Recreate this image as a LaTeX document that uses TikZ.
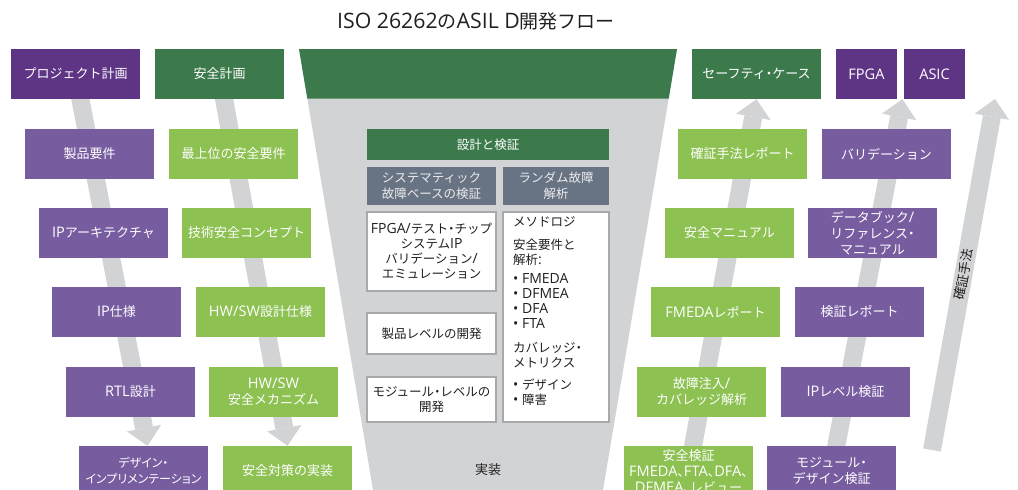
\documentclass[tikz,border=0pt]{standalone}
\usepackage{fontspec}
\setmainfont{Open Sans}[Scale=1.12]
\newfontfamily\latfont{Open Sans}[Scale=1.12]
\newfontfamily\cjkregular{Noto Sans CJK JP}
\newfontfamily\cjkpalt{Noto Sans CJK JP}[RawFeature=+palt]
\newfontfamily\pctfont{Noto Sans CJK JP}[RawFeature=+palt]
\let\cjkfont\cjkregular
\makeatletter
\newXeTeXintercharclass\cjkcls
\newXeTeXintercharclass\pctcls
\count@="3000
\loop
  \XeTeXcharclass\count@=\cjkcls
  \advance\count@ 1
\ifnum\count@<"A000 \repeat
\count@="FF00
\loop
  \XeTeXcharclass\count@=\cjkcls
  \advance\count@ 1
\ifnum\count@<"FFF0 \repeat
\XeTeXcharclass"30FB=\pctcls
\XeTeXcharclass"3001=\pctcls
\makeatother
\XeTeXinterchartoks 0 \cjkcls = {\cjkfont}
\XeTeXinterchartoks 4095 \cjkcls = {\cjkfont}
\XeTeXinterchartoks \pctcls \cjkcls = {\cjkfont}
\XeTeXinterchartoks 0 \pctcls = {\pctfont}
\XeTeXinterchartoks 4095 \pctcls = {\pctfont}
\XeTeXinterchartoks \cjkcls \pctcls = {\pctfont}
\XeTeXinterchartoks \cjkcls 0 = {\latfont}
\XeTeXinterchartoks \pctcls 0 = {\latfont}
\XeTeXinterchartoks \cjkcls 4095 = {\latfont}
\XeTeXinterchartoks \pctcls 4095 = {\latfont}
\XeTeXinterchartokenstate=1
\usetikzlibrary{arrows.meta,calc,backgrounds}
\definecolor{dpurple}{HTML}{5E3584}
\definecolor{mpurple}{HTML}{775CA0}
\definecolor{dgreen}{HTML}{3C7A4C}
\definecolor{lgreen}{HTML}{8DC152}
\definecolor{agray}{HTML}{D1D3D4}
\definecolor{slate}{HTML}{687383}
\definecolor{bordergray}{HTML}{A7A9AC}
\definecolor{ink}{HTML}{231F20}
\definecolor{headtext}{HTML}{ECEDEE}
\begin{document}
\begin{tikzpicture}[x=1pt,y=-1pt,
  box/.style={rectangle, minimum width=129pt, minimum height=50pt, inner sep=0pt,
    text=white, align=center, font=\fontsize{13}{16}\selectfont},
  darkp/.style={box, fill=dpurple},
  medp/.style={box, fill=mpurple},
  darkg/.style={box, fill=dgreen},
  lightg/.style={box, fill=lgreen},
  headbox/.style={rectangle, fill=slate, minimum height=38pt, inner sep=0pt,
    text=headtext, align=center, font=\fontsize{12.5}{16}\selectfont},
  whitebox/.style={rectangle, draw=bordergray, line width=1.2pt, fill=white,
    inner sep=0pt, minimum width=129pt, text=ink, align=center,
    font=\fontsize{12.5}{15}\selectfont},
  bigarrow/.style={draw=agray, line width=18pt,
    -{Triangle[width=35pt,length=18pt,line width=0pt]}}
]
\useasboundingbox (0,0) rectangle (1018,490);
\clip (0,0) rectangle (1018,490);

% title
\node[font=\fontsize{19}{22}\selectfont, text=ink] (title) at (476,21) {ISO 26262のASIL D開発フロー};

% left purple column
\node[darkp] (pj) at (75.5,74) {プロジェクト計画};
\node[medp] (p1) at (89.5,154) {製品要件};
\node[medp] (p2) at (103.5,233) {IPアーキテクチャ};
\node[medp] (p3) at (116.5,312) {IP仕様};
\node[medp] (p4) at (130.5,392) {RTL設計};
\node[medp, font=\fontsize{12}{16}\selectfont\let\cjkfont\cjkpalt] (p5) at (143.5,471) {デザイン・\\インプリメンテーション};

% left green column
\node[darkg] (sp) at (219.5,74) {安全計画};
\node[lightg] (g1) at (233.5,154) {最上位の安全要件};
\node[lightg] (g2) at (246.5,233) {技術安全コンセプト};
\node[lightg] (g3) at (260.5,312) {HW/SW設計仕様};
\node[lightg] (g4) at (273.5,392) {HW/SW\\安全メカニズム};
\node[lightg] (g5) at (287.5,471) {安全対策の実装};

% right green column
\node[darkg] (sc) at (756.5,74) {セーフティ・ケース};
\node[lightg] (rg1) at (742.5,154) {確証手法レポート};
\node[lightg] (rg2) at (729.5,233) {安全マニュアル};
\node[lightg] (rg3) at (715.5,312) {FMEDAレポート};
\node[lightg] (rg4) at (701.5,392) {故障注入/\\カバレッジ解析};
\node[lightg] (rg5) at (688.5,471) {安全検証\\FMEDA、FTA、DFA、\\DFMEA、レビュー};

% right purple column
\node[darkp, minimum width=61pt] (fpga) at (866.5,74) {FPGA};
\node[darkp, minimum width=61pt] (asic) at (934.5,74) {ASIC};
\node[medp] (rp1) at (886.5,154) {バリデーション};
\node[medp] (rp2) at (872.5,233) {データブック/\\リファレンス・\\マニュアル};
\node[medp] (rp3) at (859.5,312) {検証レポート};
\node[medp] (rp4) at (845.5,392) {IPレベル検証};
\node[medp] (rp5) at (831.5,471) {モジュール・\\デザイン検証};

% centre
\node[rectangle, fill=dgreen, minimum width=242pt, minimum height=31pt, inner sep=0pt,
  text=white, font=\fontsize{12.5}{15}\selectfont] (dv) at (488,144.5) {設計と検証};
\node[headbox, minimum width=129pt] (h1) at (431.5,186) {システマティック\\故障ベースの検証};
\node[headbox, minimum width=106pt] (h2) at (556,186) {ランダム故障\\解析};
\node[whitebox, minimum height=79pt] (w1) at (431.5,251.5) {FPGA/テスト・チップ\\システムIP\\バリデーション/\\エミュレーション};
\node[whitebox, minimum height=41pt] (w2) at (431.5,333.5) {製品レベルの開発};
\node[whitebox, minimum height=45pt] (w3) at (431.5,399.5) {モジュール・レベルの\\開発};
\node[whitebox, minimum width=106pt, minimum height=210pt] (w4) at (556,317) {};
\node[anchor=north west, inner sep=0pt, align=left, text=ink,
  font=\fontsize{12.5}{15}\selectfont] (w4t) at (513,216)
  {メソドロジ\\[8pt]安全要件と\\解析:\\[4pt]• FMEDA\\• DFMEA\\• DFA\\• FTA\\[9pt]カバレッジ・\\メトリクス\\[7pt]• デザイン\\• 障害};
\node[text=ink, font=\fontsize{13}{15}\selectfont] (impl) at (488,470) {実装};

% far right arrow ends
\coordinate (fr1) at (932,450);
\coordinate (fr2) at (995,99);

\begin{pgfonlayer}{background}
  % funnel
  \fill[agray] (299,49) -- (677,49) -- (603,490) -- (373,490) -- cycle;
  \fill[dgreen] (299,49) -- (677,49) -- (668.7,98.5) -- (307.3,98.5) -- cycle;
  % arrows
  \draw[bigarrow] (pj.center) -- ($(p5.north)+(4,0)$);
  \draw[bigarrow] (sp.center) -- (g5.north);
  \draw[bigarrow] (rg5.center) -- (sc.south);
  \draw[bigarrow] (rp5.center) -- ($(fpga.south east)!0.5!(asic.south west)+(2,0)$);
  \draw[bigarrow] (fr1) -- (fr2);
\end{pgfonlayer}
\path (fr1) -- node[sloped, inner sep=0pt, text=ink, font=\fontsize{13}{15}\selectfont] (frt) {確証手法} (fr2);
\end{tikzpicture}
\end{document}
